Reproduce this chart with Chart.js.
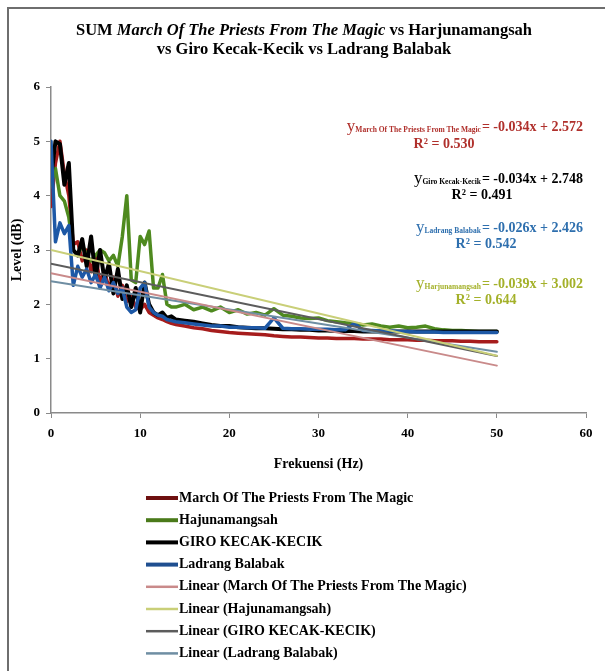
<!DOCTYPE html>
<html>
<head>
<meta charset="utf-8">
<script src="https://cdn.jsdelivr.net/npm/chart.js@4.4.1/dist/chart.umd.min.js"></script>
<style>
  html, body { margin: 0; padding: 0; background: #fff; }
  #wrap { width: 605px; height: 671px; }
</style>
</head>
<body>
<div id="wrap"><canvas id="myLineChart" width="605" height="671"></canvas></div>
<script>
// Frekuensi (Hz)
const frekuensi = [
  0, 0.5, 1, 1.5, 2, 2.5, 3, 3.5, 4, 4.5, 5, 5.5, 6, 6.5, 7, 7.5, 8, 8.5, 9, 9.5,
  10, 10.5, 11, 11.5, 12, 12.5, 13, 13.5, 14,
  15, 16, 17, 18, 19, 20, 21, 22, 23, 24, 25, 26, 27, 28, 29, 30, 31, 32,
  33, 34, 35, 36, 37, 38, 39, 40, 41, 42, 43, 44, 45, 46, 47, 48, 49, 50
];

// Level (dB)
const marchPriests = [
  3.8, 4.6, 5.0, 4.4, 4.0, 3.1, 3.15, 2.8, 3.0, 2.6, 2.9, 2.4, 2.6, 2.3, 2.5, 2.15, 2.35, 2.05, 2.15, 1.95,
  1.9, 2.0, 1.85, 1.8, 1.75, 1.72, 1.68, 1.65, 1.63,
  1.6, 1.57, 1.55, 1.52, 1.5, 1.48, 1.47, 1.46, 1.45, 1.44, 1.42, 1.41, 1.4, 1.4, 1.39, 1.38, 1.38, 1.37,
  1.37, 1.37, 1.36, 1.36, 1.36, 1.35, 1.35, 1.35, 1.34, 1.34, 1.33, 1.33, 1.33, 1.32, 1.32, 1.31, 1.31, 1.31
];
const hajunamangsah = [
  4.2, 4.5, 4.0, 3.9, 3.6, 3.0, 2.9, 3.1, 2.9, 2.8, 2.9, 3.0, 2.95, 2.8, 2.9, 2.7, 3.25, 4.0, 2.45, 2.4,
  3.25, 3.1, 3.35, 2.3, 2.3, 2.55, 2.0, 1.95, 1.95,
  2.0, 1.9, 1.95, 1.88, 1.95, 1.85, 1.9, 1.82, 1.85, 1.8, 1.92, 1.8, 1.78, 1.75, 1.74, 1.75, 1.7, 1.68,
  1.66, 1.65, 1.62, 1.64, 1.6, 1.58, 1.6, 1.57, 1.58, 1.6, 1.55, 1.53, 1.52, 1.52, 1.51, 1.5, 1.5, 1.5
];
const giroKecak = [
  4.3, 5.0, 4.95, 4.2, 4.6, 3.0, 2.9, 3.2, 2.7, 3.25, 2.5, 3.0, 2.45, 2.75, 2.2, 2.65, 2.1, 2.35, 1.95, 2.3,
  1.85, 2.4, 2.0, 1.85, 1.8, 1.85, 1.75, 1.78, 1.72,
  1.7, 1.68, 1.65, 1.62, 1.6, 1.6, 1.58, 1.57, 1.56, 1.56, 1.55, 1.54, 1.54, 1.53, 1.53, 1.52, 1.52, 1.51,
  1.51, 1.51, 1.5, 1.5, 1.5, 1.5, 1.5, 1.5, 1.5, 1.5, 1.5, 1.5, 1.5, 1.5, 1.5, 1.5, 1.5, 1.5
];
const ladrangBalabak = [
  5.0, 3.15, 3.5, 3.3, 3.45, 2.35, 2.7, 2.5, 2.65, 2.4, 2.55, 2.3, 2.5, 2.25, 2.4, 2.2, 2.3, 1.95, 1.85, 1.9,
  2.3, 2.4, 1.95, 1.85, 1.8, 1.78, 1.72, 1.7, 1.68,
  1.66, 1.64, 1.62, 1.6, 1.6, 1.58, 1.58, 1.57, 1.57, 1.56, 1.75, 1.56, 1.55, 1.55, 1.54, 1.54, 1.54, 1.53,
  1.53, 1.65, 1.52, 1.52, 1.51, 1.51, 1.5, 1.5, 1.49, 1.49, 1.49, 1.48, 1.48, 1.48, 1.48, 1.48, 1.48, 1.48
];

// garis trend (Linear), titik awal dan akhir
const trendX = [0, 50];
const trendMarch = [2.572, 0.872];
const trendHaju = [3.002, 1.052];
const trendGiro = [2.748, 1.048];
const trendLadrang = [2.426, 1.126];

const xTicks = [0, 10, 20, 30, 40, 50, 60];
const yTicks = [0, 1, 2, 3, 4, 5, 6];

const titleLines = [
  [['SUM ', false], ['March Of The Priests From The Magic', true], [' vs Harjunamangsah', false]],
  [['vs Giro Kecak-Kecik vs Ladrang Balabak', false]]
];

const eqNames = ['March Of The Priests From The Magic', 'Giro Kecak-Kecik', 'Ladrang Balabak', 'Harjunamangsah'];
const eqText = ['= -0.034x + 2.572', '= -0.034x + 2.748', '= -0.026x + 2.426', '= -0.039x + 3.002'];
const eqR2 = ['0.530', '0.491', '0.542', '0.644'];

function toPoints(xs, ys) {
  return xs.map((x, i) => ({ x: x, y: ys[i] }));
}

const SERIF = '"Liberation Serif", "DejaVu Serif", serif';

// judul, persamaan, legenda dan bingkai
const extrasPlugin = {
  id: 'extras',
  afterDraw(chart) {
    const ctx = chart.ctx;
    ctx.save();

    // bingkai
    ctx.strokeStyle = '#6e6e6e';
    ctx.lineWidth = 2;
    ctx.beginPath();
    ctx.moveTo(8, 671);
    ctx.lineTo(8, 8);
    ctx.lineTo(605, 8);
    ctx.stroke();

    // judul
    ctx.fillStyle = '#000';
    ctx.textBaseline = 'middle';
    ctx.textAlign = 'left';
    const titleY = [31, 50];
    titleLines.forEach((line, li) => {
      let total = 0;
      line.forEach(seg => {
        ctx.font = (seg[1] ? 'italic ' : '') + 'bold 16.5px ' + SERIF;
        total += ctx.measureText(seg[0]).width;
      });
      let x = 304 - total / 2;
      line.forEach(seg => {
        ctx.font = (seg[1] ? 'italic ' : '') + 'bold 16.5px ' + SERIF;
        ctx.fillText(seg[0], x, titleY[li]);
        x += ctx.measureText(seg[0]).width;
      });
    });

    // persamaan trendline
    const eqColors = ['#b0302c', '#000000', '#2e6fae', '#a4b12a'];
    const eqY = [127, 179, 228, 284];
    const r2Y = [144, 195, 244, 300];
    const r2X = [444, 482, 486, 486];
    eqText.forEach((t, i) => {
      ctx.fillStyle = eqColors[i];
      ctx.textAlign = 'right';
      ctx.font = 'bold 14px ' + SERIF;
      ctx.fillText(t, 583, eqY[i]);
      let x = 583 - ctx.measureText(t).width - 1;
      ctx.font = 'bold 7.5px ' + SERIF;
      ctx.fillText(eqNames[i], x, eqY[i] + 3);
      x -= ctx.measureText(eqNames[i]).width;
      ctx.font = '17px ' + SERIF;
      ctx.fillText('y', x, eqY[i]);
      ctx.textAlign = 'center';
      ctx.font = 'bold 14px ' + SERIF;
      ctx.fillText('R\u00b2 = ' + eqR2[i], r2X[i], r2Y[i]);
    });

    // legenda
    ctx.textAlign = 'left';
    ctx.font = 'bold 14px ' + SERIF;
    chart.data.datasets.forEach((ds, i) => {
      const y = 498 + i * 22.2;
      ctx.strokeStyle = ds.legendColor || ds.borderColor;
      ctx.lineWidth = ds.legendWidth;
      ctx.beginPath();
      ctx.moveTo(146, y);
      ctx.lineTo(178, y);
      ctx.stroke();
      ctx.fillStyle = '#000';
      ctx.fillText(ds.label, 179, y);
    });

    ctx.restore();
  }
};

function initLineChart() {
  const ctxLine = document.getElementById('myLineChart');
  new Chart(ctxLine, {
    type: 'line',
    data: {
      datasets: [
        { label: 'March Of The Priests From The Magic', data: toPoints(frekuensi, marchPriests),
          borderColor: '#a61c1c', legendColor: '#6e1010', borderWidth: 3.5, legendWidth: 4, order: 4 },
        { label: 'Hajunamangsah', data: toPoints(frekuensi, hajunamangsah),
          borderColor: '#4f8a1f', legendColor: '#4a7a1a', borderWidth: 3.5, legendWidth: 4, order: 3 },
        { label: 'GIRO KECAK-KECIK', data: toPoints(frekuensi, giroKecak),
          borderColor: '#000000', borderWidth: 4, legendWidth: 4, order: 2 },
        { label: 'Ladrang Balabak', data: toPoints(frekuensi, ladrangBalabak),
          borderColor: '#1d58a6', legendColor: '#1f4f90', borderWidth: 3.5, legendWidth: 4, order: 1 },
        { label: 'Linear (March Of The Priests From The Magic)', data: toPoints(trendX, trendMarch),
          borderColor: '#c98a8a', borderWidth: 2, legendWidth: 2.5, order: 0 },
        { label: 'Linear (Hajunamangsah)', data: toPoints(trendX, trendHaju),
          borderColor: '#c9cf78', borderWidth: 2, legendWidth: 2.5, order: 0 },
        { label: 'Linear (GIRO KECAK-KECIK)', data: toPoints(trendX, trendGiro),
          borderColor: '#5c5c5c', borderWidth: 2, legendWidth: 2.5, order: 0 },
        { label: 'Linear (Ladrang Balabak)', data: toPoints(trendX, trendLadrang),
          borderColor: '#6f8ea3', borderWidth: 2, legendWidth: 2.5, order: 0 }
      ]
    },
    options: {
      responsive: false,
      animation: false,
      elements: {
        point: { radius: 0 },
        line: { tension: 0, borderJoinStyle: 'round', borderCapStyle: 'round' }
      },
      layout: { padding: { left: 5, top: 87, right: 19, bottom: 194 } },
      scales: {
        x: {
          type: 'linear',
          min: 0,
          max: 60,
          afterBuildTicks: (axis) => { axis.ticks = xTicks.map(v => ({ value: v })); },
          afterFit: (axis) => { axis.height = 64; },
          grid: { drawOnChartArea: false, drawTicks: true, tickLength: 5, color: '#8a8a8a' },
          border: { color: '#8a8a8a', width: 1.5 },
          ticks: { padding: 8, color: '#000', font: { family: SERIF, size: 13, weight: 'bold' } },
          title: { display: true, text: 'Frekuensi (Hz)', color: '#000',
                   font: { family: SERIF, size: 14, weight: 'bold' } }
        },
        y: {
          min: 0,
          max: 6,
          afterBuildTicks: (axis) => { axis.ticks = yTicks.map(v => ({ value: v })); },
          afterFit: (axis) => { axis.width = 46; },
          grid: { drawOnChartArea: false, drawTicks: true, tickLength: 5, color: '#8a8a8a' },
          border: { color: '#8a8a8a', width: 1.5 },
          ticks: { padding: 6, color: '#000', font: { family: SERIF, size: 13, weight: 'bold' } },
          title: { display: true, text: 'Level (dB)', color: '#000',
                   font: { family: SERIF, size: 14, weight: 'bold' } }
        }
      },
      plugins: {
        legend: { display: false },
        title: { display: false },
        tooltip: { enabled: false }
      }
    },
    plugins: [extrasPlugin]
  });
}

initLineChart();
</script>
</body>
</html>
